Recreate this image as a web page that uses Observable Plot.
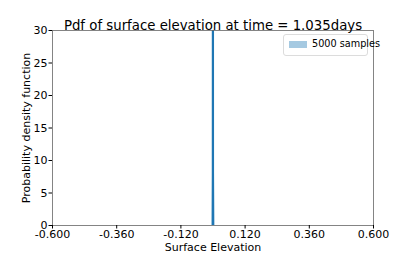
<!DOCTYPE html>
<html><head><meta charset="utf-8">
<script src="https://cdn.jsdelivr.net/npm/d3@7"></script>
<script src="https://cdn.jsdelivr.net/npm/@observablehq/plot@0.6"></script>
<style>
body{margin:0;background:#fff;}
#wrap{position:relative;width:415px;height:253px;font-family:"DejaVu Sans",sans-serif;}
#legend{position:absolute;left:283px;top:34px;width:85px;height:22px;border:1px solid #dcdcdc;border-radius:3px;background:#fff;box-sizing:border-box;}
#legend .patch{position:absolute;left:5px;top:6px;width:18px;height:7px;background:rgba(31,119,180,0.4);}
#legend .lab{position:absolute;left:28px;top:3px;font-size:9.7px;color:#000;white-space:nowrap;}
</style></head>
<body><div id="wrap"></div>
<script>
const title = "Pdf of surface elevation at time = 1.035days";
const xLabel = "Surface Elevation";
const yLabel = "Probability density function";
const legendLabel = "5000 samples";
const xTicks = [-0.6, -0.36, -0.12, 0.12, 0.36, 0.6];
const yTicks = [0, 5, 10, 15, 20, 25, 30];
// histogram bin around zero (density)
const binStart = [-0.0035];
const binEnd = [0.0035];
const binDensity = [140];
// estimated pdf curve (very narrow peak at zero)
const curveX = [-0.0022, -0.0012, -0.0006, 0, 0.0006, 0.0012, 0.0022];
const curveY = [0, 8, 90, 180, 90, 8, 0];

const bins = binStart.map((s, i) => ({x1: s, x2: binEnd[i], y: binDensity[i]}));
const curve = curveX.map((x, i) => ({x, y: curveY[i]}));

const chart = Plot.plot({
  width: 415, height: 253,
  marginLeft: 52, marginRight: 42, marginTop: 30, marginBottom: 28,
  style: {fontFamily: "DejaVu Sans, sans-serif", fontSize: "11px", color: "#000", background: "#fff"},
  x: {domain: [-0.6, 0.6]},
  y: {domain: [0, 30]},
  marks: [
    Plot.rectY(bins, {x1: "x1", x2: "x2", y: "y", fill: "#1f77b4", fillOpacity: 0.4, clip: true}),
    Plot.line(curve, {x: "x", y: "y", stroke: "#1f77b4", strokeWidth: 1.5, clip: true}),
    Plot.frame({stroke: "#666", strokeWidth: 0.8}),
    Plot.axisX({ticks: xTicks, tickFormat: d => d.toFixed(3), tickSize: 3.5, tickPadding: 1, fontSize: 11, label: xLabel, labelAnchor: "center", labelArrow: "none", labelOffset: 25}),
    Plot.axisY({ticks: yTicks, tickFormat: d => String(d), tickSize: 3.5, tickPadding: 1.5, fontSize: 11, label: yLabel, labelAnchor: "center", labelArrow: "none", labelOffset: 30}),
    Plot.text([title], {frameAnchor: "top", dy: -10, fontSize: 13.3, text: d => d})
  ]
});
document.getElementById("wrap").appendChild(chart);
const lg = document.createElement("div");
lg.id = "legend";
lg.innerHTML = '<div class="patch"></div><div class="lab"></div>';
lg.querySelector(".lab").textContent = legendLabel;
document.getElementById("wrap").appendChild(lg);
</script></body></html>
